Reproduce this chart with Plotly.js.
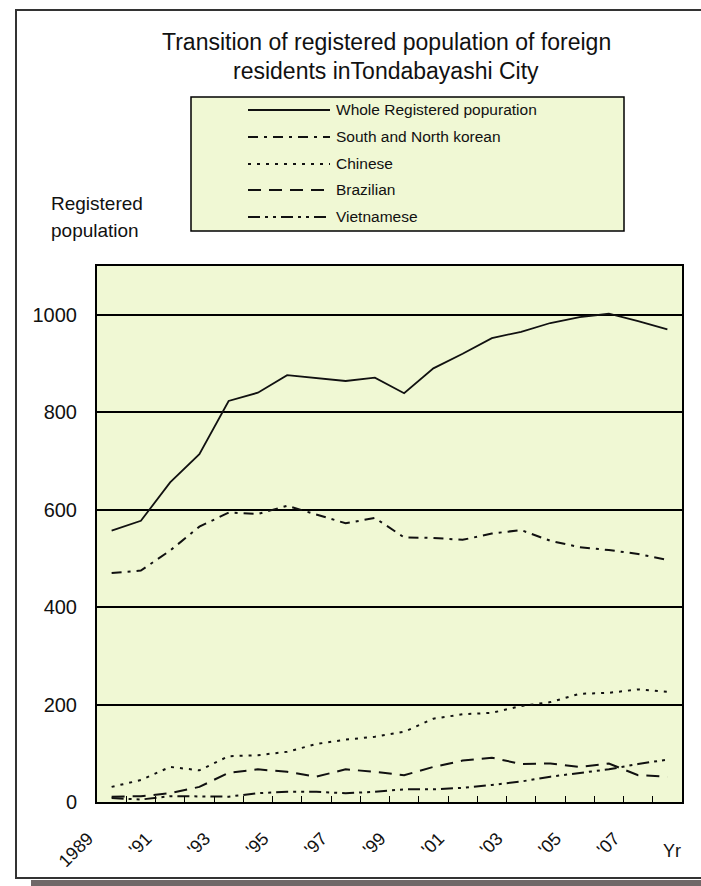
<!DOCTYPE html>
<html>
<head>
<meta charset="utf-8">
<script src="https://cdn.plot.ly/plotly-3.0.1.min.js"></script>
<style>
  html, body { margin: 0; padding: 0; background: #ffffff; }
  body { width: 701px; height: 886px; position: relative; overflow: hidden; }
  #frame { position: absolute; left: 15px; top: 9px; width: 720px; height: 870px; border: 2px solid #333; box-sizing: border-box; }
  #shadow { position: absolute; left: 31px; top: 880px; width: 700px; height: 10px; background: #706868; }
  #chart { position: absolute; left: 0; top: 0; width: 701px; height: 886px; }
</style>
</head>
<body>
<div id="frame"></div>
<div id="shadow"></div>
<div id="chart"></div>
<script>
// ---- data ----
const years = [1989, 1990, 1991, 1992, 1993, 1994, 1995, 1996, 1997, 1998,
               1999, 2000, 2001, 2002, 2003, 2004, 2005, 2006, 2007, 2008];
const wholePopulation = [557, 577, 656, 714, 823, 840, 876, 870, 864, 871,
                         839, 890, 920, 952, 965, 983, 995, 1002, 987, 970];
const korean = [470, 475, 516, 565, 594, 591, 608, 590, 572, 583,
                543, 542, 538, 551, 558, 536, 523, 517, 509, 497];
const chinese = [31, 45, 72, 65, 94, 96, 103, 119, 128, 134,
                 144, 171, 180, 183, 197, 205, 222, 224, 231, 226];
const brazilian = [11, 12, 18, 31, 60, 67, 62, 52, 67, 62,
                   55, 72, 85, 91, 78, 79, 72, 79, 55, 52];
const vietnamese = [8, 5, 12, 11, 11, 18, 21, 21, 18, 21,
                    26, 26, 29, 35, 42, 52, 59, 67, 78, 87];
const seriesNames = ["Whole Registered popuration", "South and North korean",
                     "Chinese", "Brazilian", "Vietnamese"];
const xTickLabels = ["1989", "", "'91", "", "'93", "", "'95", "", "'97", "",
                     "'99", "", "'01", "", "'03", "", "'05", "", "'07", ""];
const yTickValues = [0, 200, 400, 600, 800, 1000];
const titleLines = ["Transition of registered population of foreign",
                    "residents inTondabayashi City"];
const yLabelLines = ["Registered", "population"];
const xUnitLabel = "Yr";

// ---- styling ----
const FONT = "Liberation Sans, Arial, Helvetica, sans-serif";
const INK = "#111111";
const BG = "#f0f8d4";
const dashes = ["solid", "10px,6px,3px,6px", "3px,6px", "13px,8px", "12px,5px,3px,5px,3px,5px"];
const widths = [1.8, 2, 2, 2, 2];
const seriesValues = [wholePopulation, korean, chinese, brazilian, vietnamese];

// plot-area pixel frame
const L = 97, R = 682, T = 266, B = 802;
const fx = p => (p - L) / (R - L);
const fy = p => (B - p) / (B - T);

const traces = seriesValues.map((vals, i) => ({
  type: "scatter", mode: "lines", x: years, y: vals, name: seriesNames[i],
  line: { color: INK, width: widths[i], dash: dashes[i] },
  hoverinfo: "x+y+name", showlegend: false
}));

// legend drawn as a box with samples
const legendRows = [110, 137, 164, 190, 217];
const shapes = [{
  type: "rect", xref: "paper", yref: "paper",
  x0: fx(191), x1: fx(624), y0: fy(97), y1: fy(231),
  fillcolor: BG, line: { color: "#000", width: 1.5 }, layer: "below"
}];
const annotations = [];
seriesNames.forEach((nm, i) => {
  shapes.push({
    type: "line", xref: "paper", yref: "paper",
    x0: fx(248), x1: fx(330), y0: fy(legendRows[i]), y1: fy(legendRows[i]),
    line: { color: INK, width: widths[i], dash: dashes[i] }
  });
  annotations.push({
    xref: "paper", yref: "paper", x: fx(334), y: fy(legendRows[i]),
    xanchor: "left", yanchor: "middle", showarrow: false, text: nm,
    font: { family: FONT, size: 15.5, color: INK }
  });
});
// title lines
[42, 71].forEach((py, i) => annotations.push({
  xref: "paper", yref: "paper", x: fx(386), y: fy(py), xanchor: "center", yanchor: "middle",
  showarrow: false, text: titleLines[i], font: { family: FONT, size: 23, color: INK }
}));
// y label lines
[204, 231].forEach((py, i) => annotations.push({
  xref: "paper", yref: "paper", x: fx(49), y: fy(py), xanchor: "left", yanchor: "middle",
  showarrow: false, text: yLabelLines[i], font: { family: FONT, size: 19, color: INK }
}));
// unit label
annotations.push({
  xref: "paper", yref: "paper", x: fx(672), y: fy(851), xanchor: "center", yanchor: "middle",
  showarrow: false, text: xUnitLabel, font: { family: FONT, size: 18, color: INK }
});

const layout = {
  width: 701, height: 886,
  margin: { l: L, r: 701 - R, t: T, b: 886 - B, pad: 0 },
  paper_bgcolor: "rgba(0,0,0,0)", plot_bgcolor: BG,
  font: { family: FONT, color: INK },
  showlegend: false,
  xaxis: {
    type: "linear", range: [years[0] - 0.5, years[years.length - 1] + 0.5],
    tickmode: "array", tickvals: years.map(y => y - 0.5), ticktext: xTickLabels,
    ticks: "inside", ticklen: 6, tickwidth: 1, tickcolor: "#000",
    tickangle: -45, tickfont: { family: FONT, size: 18, color: INK },
    ticklabelstandoff: 17, ticklabelshift: -9,
    showgrid: false, zeroline: false,
    showline: true, linecolor: "#000", linewidth: 2, mirror: true
  },
  yaxis: {
    range: [0, 1100], tickmode: "array", tickvals: yTickValues,
    ticks: "", ticklabelstandoff: 14,
    tickfont: { family: FONT, size: 20, color: INK },
    showgrid: true, gridcolor: "#000", gridwidth: 2, zeroline: false,
    showline: true, linecolor: "#000", linewidth: 2, mirror: true
  },
  shapes: shapes,
  annotations: annotations
};

Plotly.newPlot("chart", traces, layout, { displayModeBar: false, staticPlot: true });
</script>
</body>
</html>
